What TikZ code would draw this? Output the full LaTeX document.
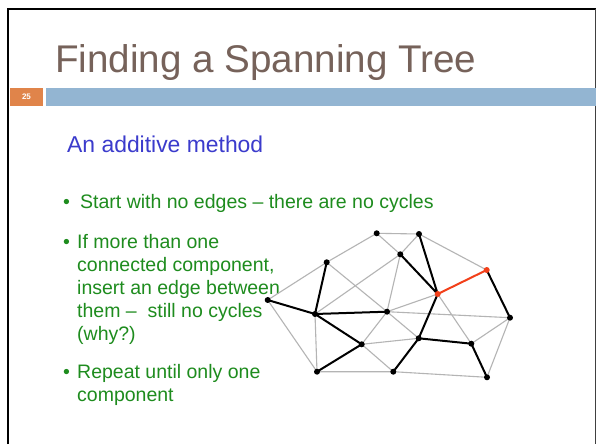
\documentclass[tikz,border=0pt]{standalone}
\usepackage{fontspec}
\setmainfont{Liberation Sans}
\definecolor{titlebrown}{HTML}{76625A}
\definecolor{subblue}{HTML}{3B3BCC}
\definecolor{bulletgreen}{HTML}{1E8C1E}
\definecolor{barblue}{HTML}{93B5D2}
\definecolor{barorange}{HTML}{E0844A}
\definecolor{edgegray}{HTML}{B4B4B4}
\definecolor{redorange}{HTML}{F2401A}
\tikzset{
  gedge/.style={edgegray,line width=1.1pt},
  bedge/.style={black,line width=2pt},
  redge/.style={redorange,line width=2pt},
  btext/.style={bulletgreen,anchor=base west,inner sep=0pt,font=\fontsize{19.5}{23}\selectfont},
}
\begin{document}
\begin{tikzpicture}[x=1pt,y=-1pt]
\useasboundingbox (0,0) rectangle (596,444);
\fill[white] (0,0) rectangle (596,444);
% frame
\draw[black,line width=2pt] (8,444) -- (8,9.5) -- (596,9.5);
\draw[black!75,line width=1pt] (595,9.5) -- (595,444);
% title
\node[titlebrown,anchor=base west,inner sep=0pt,font=\fontsize{38.6}{40}\selectfont] (title) at (55,72) {Finding a Spanning Tree};
% bars
\fill[barorange] (10,88) rectangle (43,106);
\node[white,font=\fontsize{8}{9}\selectfont\bfseries] (num) at (26.5,97) {25};
\fill[barblue] (46,88) rectangle (596,106);
% subtitle
\node[subblue,anchor=base west,inner sep=0pt,font=\fontsize{22.9}{24}\selectfont] (sub) at (67,152) {An additive method};
% bullets
\node[btext] (b1) at (63,208) {\textbullet};
\node[btext] (t1) at (80,208) {Start with no edges -- there are no cycles};
\node[btext] (b2) at (63,248) {\textbullet};
\node[btext] (t2a) at (77,248) {If more than one};
\node[btext] (t2b) at (77,271) {connected component,};
\node[btext] (t2c) at (77,294) {insert an edge between};
\node[btext] (t2d) at (77,317) {them --\ \ still no cycles};
\node[btext] (t2e) at (77,340) {(why?)};
\node[btext] (b3) at (63,378) {\textbullet};
\node[btext] (t3a) at (77,378) {Repeat until only one};
\node[btext] (t3b) at (77,401) {component};
% graph vertices
\coordinate (A) at (376.7,233.3);
\coordinate (B) at (419,234);
\coordinate (C) at (400.3,254.3);
\coordinate (D) at (326.7,262.3);
\coordinate (E) at (486.7,270);
\coordinate (F) at (437.7,294);
\coordinate (G) at (267.7,300);
\coordinate (H) at (315,314);
\coordinate (I) at (387,311.7);
\coordinate (J) at (510,317.7);
\coordinate (K) at (361.7,344.3);
\coordinate (L) at (418.7,338.3);
\coordinate (M) at (471.3,343.7);
\coordinate (N) at (317,371.7);
\coordinate (O) at (393.3,371.7);
\coordinate (P) at (487,377.3);
\draw[gedge] (A)--(B) (A)--(D) (A)--(C) (B)--(C) (B)--(E) (D)--(G) (G)--(N)
  (D)--(I) (C)--(H) (C)--(I) (H)--(N) (I)--(F) (I)--(J) (I)--(K) (I)--(L)
  (F)--(M) (J)--(M) (J)--(P) (K)--(L) (K)--(O) (N)--(O) (O)--(P);
\draw[bedge] (H)--(I) (H)--(K) (H)--(D) (G)--(H) (F)--(C) (F)--(B) (F)--(L)
  (E)--(J) (K)--(N) (O)--(L) (L)--(M) (M)--(P);
\draw[redge] (F)--(E);
\foreach \v in {A,B,C,D,G,H,I,J,K,L,M,N,O,P} \fill (\v) circle (3pt);
\foreach \v in {E,F} \fill[redorange] (\v) circle (3pt);
\end{tikzpicture}
\end{document}
